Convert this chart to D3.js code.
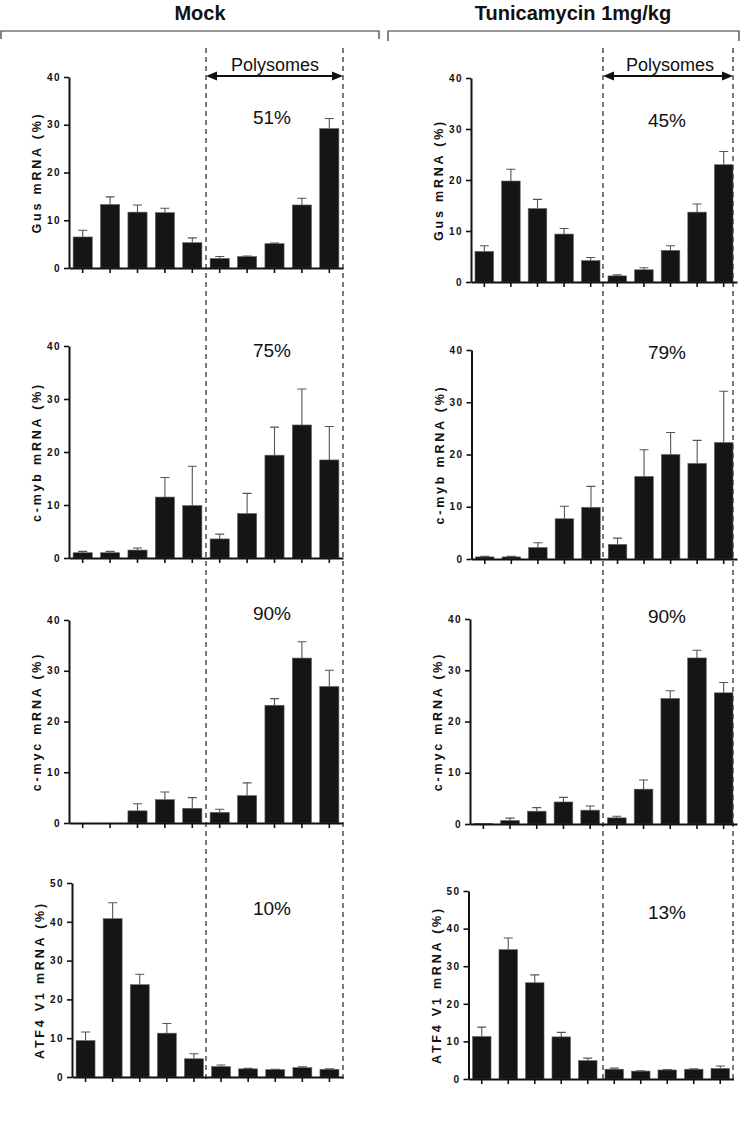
<!DOCTYPE html>
<html><head><meta charset="utf-8">
<script src="https://cdn.jsdelivr.net/npm/d3@7"></script>
<style>
html,body{margin:0;padding:0;background:#fff;}
svg{display:block;font-family:Arial,"Liberation Sans",Helvetica,sans-serif;}
</style></head>
<body>
<svg id="c" width="750" height="1125"></svg>
<script>
// ---------- DATA ----------
const fractions = [1,2,3,4,5,6,7,8,9,10];
const groups = ["Mock", "Tunicamycin 1mg/kg"];
const genes = ["Gus mRNA (%)", "c-myb mRNA (%)", "c-myc mRNA (%)", "ATF4 V1 mRNA (%)"];
const yMax = [40, 40, 40, 50];
const yTicks40 = [0,10,20,30,40];
const yTicks50 = [0,10,20,30,40,50];

const mockGus    = [6.5,13.3,11.7,11.6,5.3,2.0,2.4,5.1,13.2,29.2];
const mockGusErr = [1.4,1.6,1.5,0.9,1.0,0.4,0.1,0.1,1.4,2.1];
const tunGus     = [6.0,19.8,14.4,9.4,4.2,1.2,2.4,6.2,13.7,23.0];
const tunGusErr  = [1.1,2.3,1.8,1.1,0.6,0.2,0.4,0.9,1.6,2.6];

const mockMyb    = [1.0,1.0,1.5,11.5,9.9,3.6,8.4,19.4,25.1,18.5];
const mockMybErr = [0.25,0.25,0.4,3.7,7.4,0.9,3.8,5.3,6.8,6.3];
const tunMyb     = [0.4,0.4,2.2,7.7,9.9,2.8,15.8,20.0,18.3,22.3];
const tunMybErr  = [0.1,0.1,0.9,2.4,4.0,1.2,5.1,4.2,4.4,9.8];

const mockMyc    = [0,0,2.4,4.6,2.9,2.1,5.4,23.2,32.5,26.9];
const mockMycErr = [0,0,1.4,1.5,2.1,0.6,2.5,1.3,3.2,3.2];
const tunMyc     = [0.1,0.7,2.5,4.3,2.7,1.2,6.8,24.5,32.4,25.6];
const tunMycErr  = [0,0.45,0.7,0.9,0.8,0.3,1.8,1.5,1.5,2.0];

const mockAtf    = [9.4,40.8,23.8,11.3,4.7,2.7,2.1,1.9,2.4,2.0];
const mockAtfErr = [2.2,4.1,2.7,2.5,1.3,0.4,0.13,0.1,0.2,0.1];
const tunAtf     = [11.3,34.4,25.6,11.2,4.9,2.6,2.1,2.4,2.6,2.8];
const tunAtfErr  = [2.5,3.1,2.1,1.2,0.65,0.3,0.1,0.1,0.1,0.65];

const mockPolysomePct = ["51%","75%","90%","10%"];
const tunPolysomePct  = ["45%","79%","90%","13%"];
const polysomeLabel = "Polysomes";

// ---------- LAYOUT ----------
const layout = {
  Mock: {
    panels: [
      {x0:69, x1:343, yTop:77,  yBot:268},
      {x0:69, x1:343, yTop:346, yBot:558},
      {x0:69, x1:343, yTop:620, yBot:823},
      {x0:72, x1:343, yTop:883, yBot:1077}
    ],
    pctX: 272, pctY: [117, 350, 613, 908],
    dash: [206, 343], titleX: 200, bracket: [1, 379, 39],
    polyX: 275
  },
  Tun: {
    panels: [
      {x0:471, x1:737, yTop:78,  yBot:282},
      {x0:471.5, x1:737, yTop:350, yBot:559},
      {x0:470, x1:737, yTop:619, yBot:824},
      {x0:468.5, x1:733.5, yTop:891, yBot:1079}
    ],
    pctX: 667, pctY: [120, 352, 616, 912],
    dash: [603, 733], titleX: 573, bracket: [388, 739, 41],
    polyX: 670
  }
};

const series = {
  Mock: [[mockGus,mockGusErr],[mockMyb,mockMybErr],[mockMyc,mockMycErr],[mockAtf,mockAtfErr]],
  Tun:  [[tunGus,tunGusErr],[tunMyb,tunMybErr],[tunMyc,tunMycErr],[tunAtf,tunAtfErr]]
};

const svg = d3.select("#c");
const BAR = "#151515", ERR = "#555";

["Mock","Tun"].forEach((key, gi) => {
  const L = layout[key];
  // Title
  svg.append("text").attr("x", L.titleX).attr("y", 20)
    .attr("text-anchor","middle").attr("font-size", 20).attr("font-weight","bold")
    .attr("fill","#111").text(groups[gi]);
  // Bracket
  const [bx0, bx1, by1] = L.bracket;
  svg.append("path")
    .attr("d", `M${bx0},${by1} L${bx0},31 L${bx1},31 L${bx1},${by1}`)
    .attr("fill","none").attr("stroke","#333").attr("stroke-width",1.2);
  // Dashed lines
  L.dash.forEach(dx => {
    svg.append("line").attr("x1",dx).attr("x2",dx).attr("y1",48).attr("y2",1081)
      .attr("stroke","#333").attr("stroke-width",1.3).attr("stroke-dasharray","5,4");
  });
  // Polysomes arrow
  const ay = 76, ah = 11, aw = 4.5;
  svg.append("line").attr("x1",L.dash[0]+ah-1).attr("x2",L.dash[1]-ah+1).attr("y1",ay).attr("y2",ay)
    .attr("stroke","#111").attr("stroke-width",2.2);
  svg.append("path").attr("d",`M${L.dash[0]},${ay} L${L.dash[0]+ah},${ay-aw} L${L.dash[0]+ah},${ay+aw} Z`).attr("fill","#111");
  svg.append("path").attr("d",`M${L.dash[1]},${ay} L${L.dash[1]-ah},${ay-aw} L${L.dash[1]-ah},${ay+aw} Z`).attr("fill","#111");
  svg.append("text").attr("x", L.polyX).attr("y", 71).attr("text-anchor","middle")
    .attr("font-size",18).attr("fill","#111").text(polysomeLabel);

  const pcts = key === "Mock" ? mockPolysomePct : tunPolysomePct;

  L.panels.forEach((P, pi) => {
    const [vals, errs] = series[key][pi];
    const x = d3.scaleBand().domain(fractions).range([P.x0, P.x1])
      .paddingInner(0.3).paddingOuter(0.15);
    const y = d3.scaleLinear().domain([0, yMax[pi]]).range([P.yBot, P.yTop]);
    const g = svg.append("g");

    // bars
    g.selectAll("rect.bar").data(fractions).join("rect")
      .attr("x", d => x(d)).attr("width", x.bandwidth())
      .attr("y", (d,i) => y(vals[i])).attr("height", (d,i) => P.yBot - y(vals[i]))
      .attr("fill", BAR).attr("stroke", "#666").attr("stroke-width", 0.6);
    // error bars (upper only)
    const cap = 4.5;
    g.selectAll("path.err").data(fractions.filter((d,i)=>errs[i]>0)).join("path")
      .attr("d", d => {
        const i = fractions.indexOf(d);
        const cx = x(d) + x.bandwidth()/2;
        const yt = y(vals[i] + errs[i]), yb = y(vals[i]);
        return `M${cx},${yb} L${cx},${yt} M${cx-cap},${yt} L${cx+cap},${yt}`;
      })
      .attr("fill","none").attr("stroke", ERR).attr("stroke-width", 1.1);

    // y axis
    const ya = g.append("g").attr("transform", `translate(${P.x0},0)`)
      .call(d3.axisLeft(y).tickValues(yMax[pi] === 50 ? yTicks50 : yTicks40)
        .tickSize(5).tickSizeOuter(0).tickPadding(3));
    ya.select(".domain").attr("stroke","#111").attr("stroke-width",2);
    ya.selectAll(".tick line").attr("stroke","#111").attr("stroke-width",1.6);
    ya.selectAll(".tick text").attr("font-size",10).attr("font-weight","bold")
      .attr("letter-spacing","1.5px").attr("fill","#111")
      .attr("font-family","Arial,'Liberation Sans',sans-serif");

    // x axis
    const xa = g.append("g").attr("transform", `translate(0,${P.yBot})`)
      .call(d3.axisBottom(x).tickSize(5).tickSizeOuter(0).tickFormat(""));
    xa.select(".domain").attr("stroke","#111").attr("stroke-width",2);
    xa.selectAll(".tick line").attr("stroke","#111").attr("stroke-width",1.6);

    // y label
    const cy = (P.yTop + P.yBot)/2;
    g.append("text").attr("transform", `translate(${P.x0-32},${cy}) rotate(-90)`)
      .attr("text-anchor","middle").attr("dominant-baseline","central")
      .attr("font-size",12.5).attr("font-weight","bold").attr("letter-spacing","2.8px")
      .attr("fill","#111").text(genes[pi]);

    // percentage
    svg.append("text").attr("x", L.pctX).attr("y", L.pctY[pi])
      .attr("text-anchor","middle").attr("dominant-baseline","central")
      .attr("font-size",19).attr("fill","#111").text(pcts[pi]);
  });
});
</script>
</body></html>
